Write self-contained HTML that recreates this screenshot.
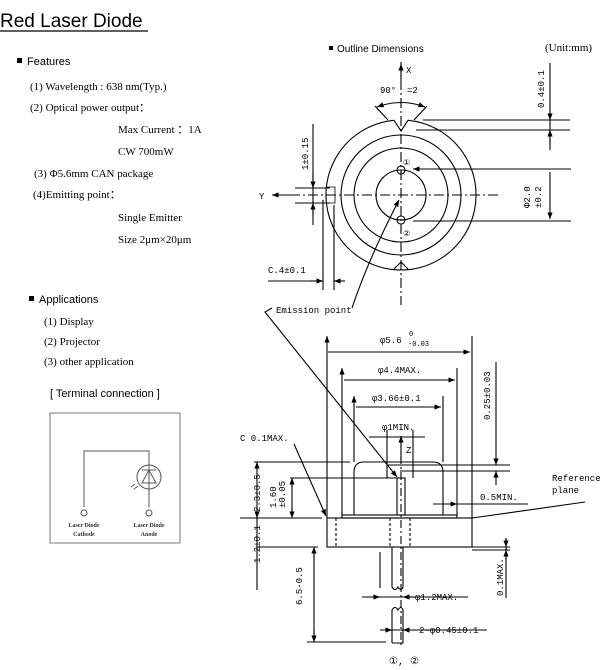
<!DOCTYPE html>
<html><head><meta charset="utf-8"><style>
body{margin:0;width:606px;height:670px;background:#fff;overflow:hidden}
svg{display:block}
.s{font-family:"Liberation Sans",sans-serif}
.r{font-family:"Liberation Serif",serif;font-size:11px}
.m{font-family:"Liberation Mono",monospace;font-size:9px}
</style></head><body>
<svg width="606" height="670" viewBox="0 0 606 670" xmlns="http://www.w3.org/2000/svg" stroke-linecap="butt">
<defs>
<marker id="a" viewBox="0 0 10 10" refX="10" refY="5" markerWidth="6" markerHeight="6" orient="auto-start-reverse"><path d="M0,1 L10,5 L0,9z" fill="#000"/></marker>
</defs>
<!-- Left text -->
<text x="0" y="27" class="s" font-size="19">Red Laser Diode</text>
<line x1="0" y1="31" x2="148" y2="31" stroke="#000" stroke-width="1.2"/>
<rect x="17" y="58" width="5" height="5"/>
<text x="27" y="65" class="s" font-size="11">Features</text>
<text x="30" y="90" class="r">(1) Wavelength : 638 nm(Typ.)</text>
<text x="30" y="111" class="r">(2) Optical power output：</text>
<text x="118" y="133" class="r">Max Current ：1A</text>
<text x="118" y="155" class="r">CW 700mW</text>
<text x="34" y="177" class="r">(3) Φ5.6mm CAN package</text>
<text x="33" y="198" class="r">(4)Emitting point：</text>
<text x="118" y="221" class="r">Single Emitter</text>
<text x="118" y="243" class="r">Size 2μm×20μm</text>
<rect x="29" y="296" width="5" height="5"/>
<text x="39" y="303" class="s" font-size="11">Applications</text>
<text x="44" y="325" class="r">(1) Display</text>
<text x="44" y="345" class="r">(2) Projector</text>
<text x="44" y="365" class="r">(3) other application</text>
<text x="50" y="397" class="s" font-size="11">[ Terminal connection ]</text>
<rect x="50" y="413" width="130" height="130" fill="none" stroke="#777" stroke-width="1"/>
<g stroke="#555" fill="none" stroke-width="1">
<path d="M84,507 V451 H149 V507"/>
<circle cx="149" cy="477" r="12"/>
<path d="M142,483 L149,470 L156,483z M142,470 H156"/>
<path d="M138,486 l-4,3 M135,484 l-4,3"/>
<circle cx="84" cy="513" r="3"/><circle cx="149" cy="513" r="3"/>
</g>
<g font-family="Liberation Serif,serif" font-size="6" font-weight="bold" fill="#333" text-anchor="middle">
<text x="84" y="527">Laser Diode</text><text x="84" y="536">Cathode</text>
<text x="149" y="527">Laser Diode</text><text x="149" y="536">Anode</text>
</g>
<!-- Outline header -->
<rect x="329" y="46" width="4" height="4"/>
<text x="337" y="52" class="s" font-size="10">Outline Dimensions</text>
<text x="545" y="51" class="r" font-size="8">(Unit:mm)</text>
<!-- Top view -->
<g stroke="#000" fill="none" stroke-width="1.1">
<path d="M408,120.3 A75,75 0 1 1 394,120.3 L401,131 L408,120.3"/>
<path d="M394,269 L401,262 L408,269"/>
<circle cx="401" cy="195" r="60"/>
<circle cx="401" cy="195" r="47"/>
<circle cx="401" cy="195" r="25"/>
<path d="M327,187 H335 V203 H327" stroke-width="0.8"/>
<circle cx="401" cy="170" r="4"/><circle cx="401" cy="220" r="4"/>
<path d="M401,62 V305" stroke-dasharray="10,3,2,3"/>
<path d="M401,80 V64" marker-end="url(#a)"/>
<path d="M498,195 H272" stroke-dasharray="10,3,2,3"/>
<path d="M290,195 H272" marker-end="url(#a)"/>
<path d="M377,107 Q401,98 425,107" marker-start="url(#a)" marker-end="url(#a)"/>
<path d="M375,106 L388,120 M427,106 L414,120"/>
<path d="M423,120 H570 M416,130 H570 M550,63 V150"/>
<path d="M550,110 V120" marker-end="url(#a)"/><path d="M550,145 V130" marker-end="url(#a)"/>
<path d="M413,169 H571 M413,221 H571 M550,172 V219" marker-start="url(#a)" marker-end="url(#a)"/>
<path d="M313,124 V225 M295,188 H330 M295,203 H330"/>
<path d="M313,175 V188" marker-end="url(#a)"/><path d="M313,215 V203" marker-end="url(#a)"/>
<path d="M323,200 V290 M334,205 V290 M268,281 H320" /><path d="M310,281 H323" marker-end="url(#a)"/><path d="M345,281 H334" marker-end="url(#a)"/>
<path d="M352,308 Q368,260 399,200" marker-end="url(#a)"/>
<path d="M272,308 L265,312 L397,477" marker-end="url(#a)"/>
</g>
<g class="m" fill="#000">
<text x="406" y="73">X</text><text x="259" y="199">Y</text>
<text x="380" y="93">90°</text><text x="407" y="93">=2</text>
<text x="268" y="273">C.4±0.1</text>
<text x="276" y="313">Emission point</text>
<text transform="translate(544,108) rotate(-90)">0.4±0.1</text>
<text transform="translate(308,170) rotate(-90)">1±0.15</text>
<text transform="translate(530,208) rotate(-90)">Φ2.0</text>
<text transform="translate(541,208) rotate(-90)">±0.2</text>
<text x="403" y="165" font-size="8">①</text><text x="403" y="236" font-size="8">②</text>
</g>
<!-- Side view -->
<g stroke="#000" fill="none" stroke-width="1.1">
<rect x="327" y="518" width="145" height="29"/>
<path d="M336,518 V547 M390,518 V547 M410,518 V547" stroke-dasharray="3,2"/>
<rect x="342" y="515" width="115" height="3"/>
<path d="M354,515 V472 Q354,462 364,462 H433 Q443,462 443,472 V515"/>
<rect x="397" y="478" width="8" height="37"/>
<path d="M392,547 V587 q3,5 6,0 q3,5 5,0 V547"/>
<path d="M392,643 V610 q3,-5 6,0 q3,-5 5,0 V643 H392"/>
<path d="M401,440 V645" stroke-dasharray="8,3,2,3"/>
<path d="M401,460 V436" marker-end="url(#a)"/>
<path d="M327,336 V518 M472,336 V518 M328,352 H470" marker-start="url(#a)" marker-end="url(#a)"/>
<path d="M342,368 V515 M457,368 V515 M344,380 H455" marker-start="url(#a)" marker-end="url(#a)"/>
<path d="M354,396 V462 M443,396 V462 M356,407 H441" marker-start="url(#a)" marker-end="url(#a)"/>
<path d="M369,437 H425 M387,430 V478 M413,430 V478"/>
<path d="M388,465 H510 M400,471 H510" stroke-width="0.9"/>
<path d="M496,362 V465" marker-end="url(#a)"/><path d="M496,485 V471" marker-end="url(#a)"/>
<path d="M254,462 H350 M257,462 V518" />
<path d="M257,470 V462" marker-end="url(#a)"/><path d="M257,510 V518" marker-end="url(#a)"/>
<path d="M290,478 H397 M292,478 V518"/>
<path d="M292,488 V478" marker-end="url(#a)"/><path d="M292,508 V518" marker-end="url(#a)"/>
<path d="M240,518 H322 M257,547 H318 M257,518 V590"/>
<path d="M314,547 V642 M307,642 H386"/>
<path d="M314,560 V547" marker-end="url(#a)"/><path d="M314,630 V642" marker-end="url(#a)"/>
<path d="M294,444 L326,516" marker-end="url(#a)"/>
<path d="M380,552 V588 M362,597 H468"/>
<path d="M370,597 H380" marker-end="url(#a)"/><path d="M415,597 H403" marker-end="url(#a)"/>
<path d="M380,630 H487"/><path d="M385,630 H392" marker-end="url(#a)"/><path d="M410,630 H403" marker-end="url(#a)"/>
<path d="M433,504 H528"/><path d="M440,504 H457" marker-end="url(#a)"/>
<path d="M472,518 L585,502"/>
<path d="M472,547 H510 M472,550 H510 M506,538 V598"/>
<path d="M506,538 V547" marker-end="url(#a)"/><path d="M506,560 V550" marker-end="url(#a)"/>
</g>
<g class="m" fill="#000">
<text x="380" y="343">φ5.6</text><text x="409" y="336" font-size="7">0</text><text x="408" y="346" font-size="7">-0.03</text>
<text x="378" y="373">φ4.4MAX.</text>
<text x="372" y="401">φ3.66±0.1</text>
<text x="382" y="430">φ1MIN.</text>
<text x="406" y="453">Z</text>
<text x="240" y="441">C 0.1MAX.</text>
<text x="480" y="500">0.5MIN.</text>
<text x="552" y="481">Reference</text><text x="552" y="493">plane</text>
<text x="415" y="600">φ1.2MAX.</text>
<text x="419" y="633">2-φ0.45±0.1</text>
<text transform="translate(490,420) rotate(-90)">0.25±0.03</text>
<text transform="translate(260,512) rotate(-90)">2.3±0.5</text>
<text transform="translate(276,508) rotate(-90)">1.60</text>
<text transform="translate(285,508) rotate(-90)">±0.05</text>
<text transform="translate(260,563) rotate(-90)">1.2±0.1</text>
<text transform="translate(302,605) rotate(-90)">6.5-0.5</text>
<text transform="translate(503,596) rotate(-90)">0.1MAX.</text>
<text x="389" y="664" font-size="10">①, ②</text>
</g>
</svg>
</body></html>
